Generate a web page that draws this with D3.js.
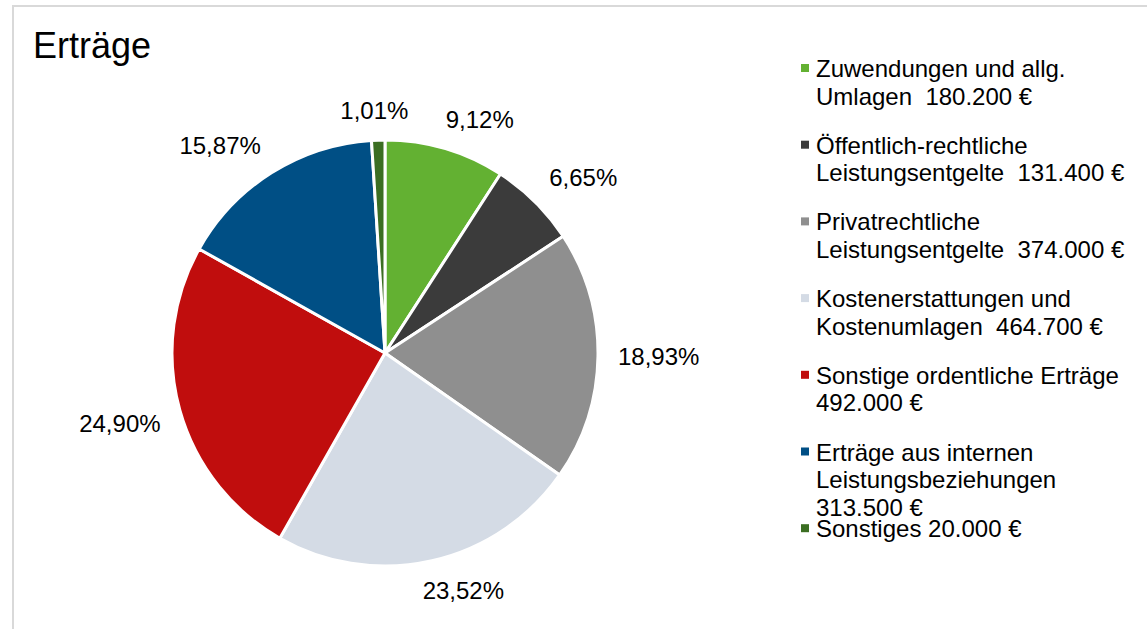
<!DOCTYPE html>
<html>
<head>
<meta charset="utf-8">
<script src="https://cdn.jsdelivr.net/npm/d3@7"></script>
<style>
  html, body { margin: 0; padding: 0; background: #fff; }
  svg { display: block; font-family: "Liberation Sans", Arial, sans-serif; }
</style>
</head>
<body>
<div class="ertraegeChart"></div>
<script>
// data
const categories = [
  'Zuwendungen und allg. Umlagen',
  'Öffentlich-rechtliche Leistungsentgelte',
  'Privatrechtliche Leistungsentgelte',
  'Kostenerstattungen und Kostenumlagen',
  'Sonstige ordentliche Erträge',
  'Erträge aus internen Leistungsbeziehungen',
  'Sonstiges'
]
const values = [180200, 131400, 374000, 464700, 492000, 313500, 20000]
const colors = ['#63b132', '#3b3b3b', '#8f8f8f', '#d4dbe5', '#c00d0d', '#004f85', '#3b6e22']
const title = 'Erträge'

const drawPie = () => {
  let width = 1147
  let height = 629
  let fontSize = 24
  let cx = 385, cy = 353, radius = 213

  const de = d3.formatLocale({decimal: ',', thousands: '.', grouping: [3], currency: ['', '\u00a0€']})
  const fmtEuro = de.format('$,.0f')
  const fmtPct = de.format('.2f')
  const total = d3.sum(values)

  d3.select('.ertraegeChart > *').remove()
  const svg = d3.select('.ertraegeChart').append('svg')
    .attr('width', width)
    .attr('height', height)
    .attr('viewBox', [0, 0, width, height])

  // chart frame (only top / left edge visible)
  svg.append('rect')
    .attr('x', 13).attr('y', 6)
    .attr('width', 1300).attr('height', 800)
    .attr('fill', 'none')
    .attr('stroke', '#d9d9d9')
    .attr('stroke-width', 2)

  svg.append('text')
    .attr('x', 33).attr('y', 58)
    .attr('font-size', 36)
    .attr('fill', '#000')
    .text(title)

  const pie = d3.pie().sort(null).value(d => d)
  const arcs = pie(values)
  const arc = d3.arc().innerRadius(0).outerRadius(radius)

  const g = svg.append('g').attr('transform', `translate(${cx},${cy})`)
  g.selectAll('path')
    .data(arcs)
    .join('path')
      .attr('d', arc)
      .attr('fill', (d, i) => colors[i])
      .attr('stroke', '#fff')
      .attr('stroke-width', 3)
      .attr('stroke-linejoin', 'round')

  // outside-end labels
  const labelR = radius + 20
  const boxH = 20
  const clamp = t => Math.max(-1, Math.min(1, t))
  g.selectAll('text.pct')
    .data(arcs)
    .join('text')
      .attr('class', 'pct')
      .attr('font-size', fontSize)
      .attr('fill', '#000')
      .attr('text-anchor', 'middle')
      .text(d => fmtPct(d.value / total * 100) + '%')
      .each(function (d) {
        const a = (d.startAngle + d.endAngle) / 2
        const s = Math.sin(a), c = Math.cos(a)
        const w = this.getComputedTextLength()
        const x = labelR * s + clamp(3 * s) * w / 2
        const y = -labelR * c - clamp(3 * c) * boxH / 2
        d3.select(this).attr('x', x).attr('y', y + fontSize * 0.716 / 2)
      })

  // legend
  const legendX = 816
  const legendY = 77
  const entryStep = 76.7
  const lineStep = 27.6
  const wrapWidth = 312

  const legend = svg.append('g')
  categories.forEach((name, i) => {
    const sep = i === categories.length - 1 ? ' ' : '  '
    const label = name + sep + fmtEuro(values[i])
    const y0 = legendY + i * entryStep
    legend.append('rect')
      .attr('x', legendX - 15).attr('y', y0 - 13)
      .attr('width', 8).attr('height', 8)
      .attr('fill', colors[i])

    const t = legend.append('text')
      .attr('font-size', fontSize)
      .attr('fill', '#000')
      .style('white-space', 'pre')
    // word wrap, keeping the spacing between words
    const tokens = label.split(/( +)/)
    let lines = []
    let cur = ''
    const probe = t.append('tspan')
    for (let k = 0; k < tokens.length; k += 2) {
      const word = tokens[k]
      const gap = k > 0 ? tokens[k - 1] : ''
      const trial = cur === '' ? word : cur + gap + word
      probe.text(trial)
      if (probe.node().getComputedTextLength() > wrapWidth && cur !== '') {
        lines.push(cur)
        cur = word
      } else {
        cur = trial
      }
    }
    lines.push(cur)
    probe.remove()
    lines.forEach((ln, j) => {
      t.append('tspan')
        .attr('x', legendX)
        .attr('y', y0 + j * lineStep)
        .text(ln)
    })
  })
}

drawPie()
</script>
</body>
</html>
